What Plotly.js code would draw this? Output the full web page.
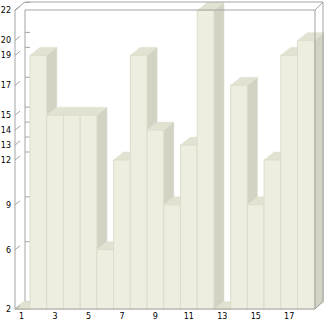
<!DOCTYPE html>
<html>
<head>
<meta charset="utf-8">
<script src="https://cdn.plot.ly/plotly-3.0.1.min.js"></script>
<style>html,body{margin:0;padding:0;background:#fff;}#chart{width:326px;height:321px;}</style>
</head>
<body>
<div id="chart"></div>
<script>
// ---- data ----
const categories = [1,2,3,4,5,6,7,8,9,10,11,12,13,14,15,16,17,18];
const values = [2,19,15,15,15,6,12,19,14,9,13,22,2,17,9,12,19,20];
const xTickVals = [1,3,5,7,9,11,13,15,17];
const xTickText = ["1","3","5","7","9","11","13","15","17"];
const yTickVals = [2,6,9,12,13,14,15,17,19,20,22];
const yTickText = ["2","6","9","12","13","14","15","17","19","20","22"];

// ---- style ----
const BASE = 2;          // axis floor
const DX = 0.598;        // depth offset in x units (~10px)
const DY = 0.535;        // depth offset in y units (~8px)
const FRONT = '#eeeee0', TOP = '#e2e2d2', SIDE = '#d3d3c3', SEP = '#dcdccb', FRAME = '#a4a4a4';
const W = 326, H = 321, L = 15, R = 2, T = 1, B = 11;
const PW = W - L - R, PH = H - T - B;
const XR = [0.603, 19.084], YR = [1.9666, 22.635];

// 3D faces built from data
const sx = [], sy = [], tx = [], ty = [];
categories.forEach((c, i) => {
  const v = values[i];
  sx.push(c + 0.5, c + 0.5, c + 0.5 + DX, c + 0.5 + DX, c + 0.5, null);
  sy.push(BASE, v, v + DY, BASE + DY, BASE, null);
  tx.push(c - 0.5, c + 0.5, c + 0.5 + DX, c - 0.5 + DX, c - 0.5, null);
  ty.push(v, v, v + DY, v + DY, v, null);
});

const traces = [
  {type: 'scatter', mode: 'lines', x: sx, y: sy, fill: 'toself', fillcolor: SIDE,
   line: {color: SIDE, width: 0.5}, hoverinfo: 'skip', showlegend: false},
  {type: 'scatter', mode: 'lines', x: tx, y: ty, fill: 'toself', fillcolor: TOP,
   line: {color: TOP, width: 0.5}, hoverinfo: 'skip', showlegend: false},
  {type: 'bar', x: categories, y: values, width: 1, xaxis: 'x2', yaxis: 'y2',
   marker: {color: FRONT, line: {color: SEP, width: 1}}, hoverinfo: 'x+y', showlegend: false}
];

// frame lines in pixel coordinates
function px(x) { return (x - L) / PW; }
function py(y) { return (H - B - y) / PH; }
const frameSegs = [
  [15,309,15,10],[15,10,25,2],[25,2,323,2],[315,10,323,2],[323,2,323,301],[323,301,315,309],
  [15,309,315,309],[25,10,315,10],[25,10,25,301],[315,10,315,309]
];
const shapes = frameSegs.map(s => ({type: 'line', xref: 'paper', yref: 'paper',
  x0: px(s[0]), y0: py(s[1]), x1: px(s[2]), y1: py(s[3]),
  line: {color: FRAME, width: 1}, layer: 'above'}));
yTickVals.forEach(v => {
  shapes.push({type: 'line', xref: 'paper', yref: 'y', x0: px(15), x1: px(20), y0: v, y1: v + DY / 2,
    line: {color: FRAME, width: 1}, layer: 'above'});
  shapes.push({type: 'line', xref: 'paper', yref: 'y', x0: px(25), x1: px(30), y0: v + DY, y1: v + DY,
    line: {color: FRAME, width: 1}, layer: 'below'});
});

const tickFont = {family: 'DejaVu Sans, sans-serif', size: 8, color: '#000000'};
const hidden = {showgrid: false, zeroline: false, showline: false, ticks: '', showticklabels: false, fixedrange: true};
const layout = {
  width: W, height: H,
  margin: {l: L, r: R, t: T, b: B, pad: 0},
  paper_bgcolor: '#fff', plot_bgcolor: '#fff',
  showlegend: false,
  xaxis: {range: XR, tickmode: 'array', tickvals: xTickVals, ticktext: xTickText,
    showgrid: false, zeroline: false, showline: false, ticks: '', tickfont: tickFont, fixedrange: true},
  yaxis: {range: YR, tickmode: 'array', tickvals: yTickVals, ticktext: yTickText, ticklabelstandoff: 3,
    showgrid: false, zeroline: false, showline: false, ticks: '', tickfont: tickFont, fixedrange: true},
  xaxis2: Object.assign({range: XR, overlaying: 'x'}, hidden),
  yaxis2: Object.assign({range: YR, overlaying: 'y'}, hidden),
  shapes: shapes
};

Plotly.newPlot('chart', traces, layout, {displayModeBar: false, staticPlot: true});
</script>
</body>
</html>
